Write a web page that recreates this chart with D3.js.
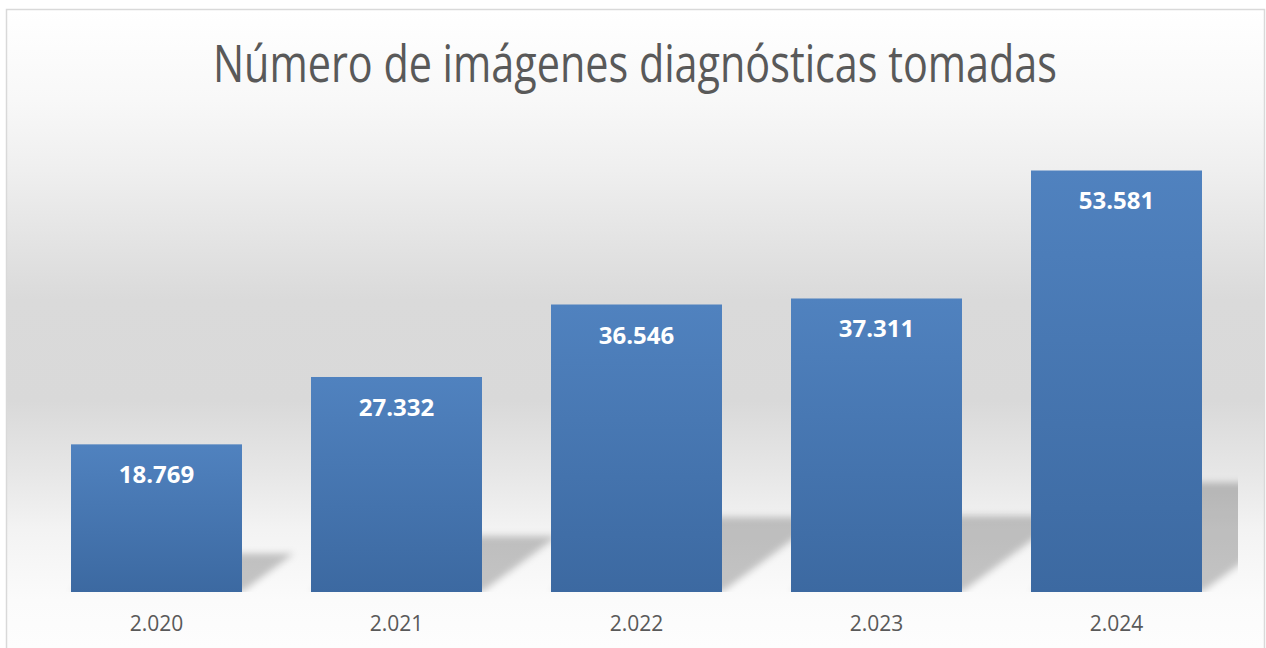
<!DOCTYPE html>
<html>
<head>
<meta charset="utf-8">
<script src="https://cdn.jsdelivr.net/npm/d3@7"></script>
<style>
  html, body { margin: 0; padding: 0; background: #fff; }
  svg { display: block; }
</style>
</head>
<body>
<div id="chart"></div>
<script>
// data
const years = ["2.020", "2.021", "2.022", "2.023", "2.024"];
const values = [18769, 27332, 36546, 37311, 53581];
const valueLabels = ["18.769", "27.332", "36.546", "37.311", "53.581"];
const chartTitle = "Número de imágenes diagnósticas tomadas";

const W = 1266, H = 648;
const baseY = 592, topY = 120;

const svg = d3.select("#chart").append("svg")
  .attr("width", W).attr("height", H);

const defs = svg.append("defs");

// chart area background: white -> grey -> white
const bg = defs.append("linearGradient")
  .attr("id", "bgGrad")
  .attr("gradientUnits", "userSpaceOnUse")
  .attr("x1", 0).attr("y1", 10).attr("x2", 0).attr("y2", 648);
[[10, "#ffffff"], [100, "#f8f8f8"], [170, "#efefef"], [250, "#e2e2e2"], [300, "#dadada"],
 [400, "#d9d9d9"], [470, "#e6e6e6"], [530, "#f3f3f3"], [600, "#fbfbfb"], [648, "#fdfdfd"]]
  .forEach(s => bg.append("stop")
    .attr("offset", (s[0] - 10) / 638)
    .attr("stop-color", s[1]));

const barGrad = defs.append("linearGradient")
  .attr("id", "barGrad")
  .attr("x1", 0).attr("y1", 0).attr("x2", 0).attr("y2", 1);
barGrad.append("stop").attr("offset", 0).attr("stop-color", "#5082bf");
barGrad.append("stop").attr("offset", 1).attr("stop-color", "#3c69a1");

defs.append("filter").attr("id", "blur")
  .attr("x", "-20%").attr("y", "-20%").attr("width", "140%").attr("height", "140%")
  .append("feGaussianBlur").attr("stdDeviation", 3.5);

defs.append("clipPath").attr("id", "plotClip")
  .append("rect").attr("x", 36).attr("y", 0).attr("width", 1202).attr("height", baseY);

// frame
svg.append("rect")
  .attr("x", 6.5).attr("y", 9.5).attr("width", 1258).attr("height", 660)
  .attr("fill", "url(#bgGrad)")
  .attr("stroke", "#d9d9d9").attr("stroke-width", 1.5);

const x = d3.scaleBand()
  .domain(years)
  .range([36.5, 1236.5])
  .paddingInner(0.2875)
  .paddingOuter(0.14375);

const y = d3.scaleLinear()
  .domain([0, 60000])
  .range([baseY, topY]);

// perspective shadows behind the bars
svg.append("g")
  .attr("clip-path", "url(#plotClip)")
  .selectAll("path")
  .data(values)
  .join("path")
  .attr("d", (d, i) => {
    const x0 = x(years[i]), x1 = x0 + x.bandwidth();
    const h = (baseY - y(d)) * 0.26, dx = h * 1.35;
    return `M${x0},${baseY}L${x1},${baseY}L${x1 + dx},${baseY - h}L${x0 + dx},${baseY - h}Z`;
  })
  .attr("fill", "#000")
  .attr("fill-opacity", 0.22)
  .attr("filter", "url(#blur)");

// bars
svg.append("g")
  .selectAll("rect")
  .data(values)
  .join("rect")
  .attr("x", (d, i) => x(years[i]))
  .attr("y", d => y(d))
  .attr("width", x.bandwidth())
  .attr("height", d => baseY - y(d))
  .attr("fill", "url(#barGrad)");

// value labels inside the bar tops
svg.append("g")
  .selectAll("text")
  .data(values)
  .join("text")
  .attr("x", (d, i) => x(years[i]) + x.bandwidth() / 2)
  .attr("y", d => y(d) + 39)
  .attr("text-anchor", "middle")
  .attr("font-family", "'Open Sans', sans-serif")
  .attr("font-weight", 700)
  .attr("font-size", 24)
  .attr("fill", "#ffffff")
  .text((d, i) => valueLabels[i]);

// category axis labels
const xAxis = svg.append("g")
  .attr("transform", `translate(0,${baseY})`)
  .call(d3.axisBottom(x).tickSize(0).tickPadding(0));
xAxis.select(".domain").remove();
xAxis.selectAll("text")
  .attr("y", 39)
  .attr("dy", null)
  .attr("font-family", "'Open Sans', sans-serif")
  .attr("font-size", 21)
  .attr("fill", "#595959");

// title
svg.append("text")
  .attr("x", 635)
  .attr("y", 82)
  .attr("text-anchor", "middle")
  .attr("font-family", "'Open Sans', sans-serif")
  .attr("font-weight", 400)
  .attr("font-size", 51)
  .attr("fill", "#595959")
  .attr("textLength", 844)
  .attr("lengthAdjust", "spacingAndGlyphs")
  .text(chartTitle);
</script>
</body>
</html>
